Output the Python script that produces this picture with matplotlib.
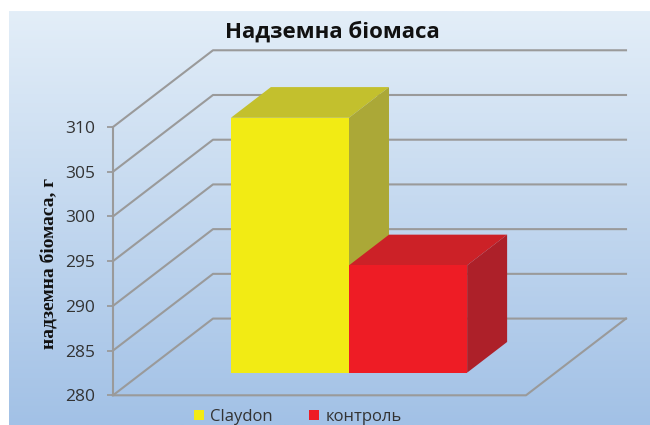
from matplotlib import pyplot as plt
from matplotlib.patches import Patch
import numpy as np

# Data
title = "Надземна біомаса"
y_label = "надземна біомаса, г"
series_names = ["Claydon", "контроль"]
series_values = [308.5, 292.0]
y_ticks = [280, 285, 290, 295, 300, 305, 310]

front_colors = ["#F2EB14", "#EE1C25"]
top_colors = ["#C3C02D", "#CC2127"]
side_colors = ["#ABA837", "#AD2029"]
grid_color = "#9A9A9A"

W, H = 650, 425
# How far the back wall is shifted from the front plane, in data units
depth_dx = 100 / 413
depth_dy = 76.7 / 8.94
bar_width = 0.286
bar_front = 0.295
bar_back = 0.695


def project(x, v, d):
    # oblique projection: d=0 is the front plane, d=1 the back wall
    return x + d * depth_dx, v + d * depth_dy


def face(ax, corners, color, z):
    pts = [project(*c) for c in corners]
    ax.fill([p[0] for p in pts], [p[1] for p in pts], color=color, lw=0, zorder=z, clip_on=False)


fig = plt.figure(figsize=(W / 100, H / 100), dpi=100, facecolor="white")

# Gradient panel behind the chart
bg = fig.add_axes([9 / W, 0, (W - 9) / W, (H - 11) / H], zorder=0)
top_rgb = np.array([227, 238, 248]) / 255
bottom_rgb = np.array([162, 193, 230]) / 255
steps = np.linspace(0, 1, 256)[:, None, None]
bg.imshow(top_rgb + (bottom_rgb - top_rgb) * steps, aspect="auto")
bg.axis("off")

# Axes cover the front plane of the 3D box
ax = fig.add_axes([113 / W, (H - 395.3) / H, 413 / W, 268.3 / H], zorder=1)
ax.patch.set_alpha(0)
ax.set_xlim(0, 1)
ax.set_ylim(280, 310)
for name in ["top", "right", "bottom"]:
    ax.spines[name].set_visible(False)
ax.spines["left"].set_color(grid_color)
ax.spines["left"].set_linewidth(1.5)
ax.set_xticks([])
ax.set_yticks(y_ticks)
ax.tick_params(axis="y", length=4.5, width=1.3, color=grid_color, pad=8.5)
for lab in ax.get_yticklabels():
    lab.set_fontfamily("Open Sans")
    lab.set_fontsize(12.5)
    lab.set_color("#333333")

# Gridlines run over the side wall and along the back wall
for v in y_ticks:
    pts = [project(0, v, 0), project(0, v, 1), project(1, v, 1)]
    ax.plot([p[0] for p in pts], [p[1] for p in pts], color=grid_color, lw=1.5, zorder=2, clip_on=False)
# Floor outline
floor = [project(0, 280, 0), project(1, 280, 0), project(1, 280, 1)]
ax.plot([p[0] for p in floor], [p[1] for p in floor], color=grid_color, lw=1.5, zorder=2, clip_on=False)

# Bars: two series side by side, meeting at the middle
base = 280
for i, value in enumerate(series_values):
    x0 = 0.5 + (i - 1) * bar_width
    x1 = x0 + bar_width
    z = 3 + i
    face(ax, [(x0, value, bar_front), (x1, value, bar_front), (x1, value, bar_back), (x0, value, bar_back)], top_colors[i], z)
    face(ax, [(x1, base, bar_front), (x1, value, bar_front), (x1, value, bar_back), (x1, base, bar_back)], side_colors[i], z)
    face(ax, [(x0, base, bar_front), (x1, base, bar_front), (x1, value, bar_front), (x0, value, bar_front)], front_colors[i], z)

fig.text(332 / W, (H - 32) / H, title, ha="center", va="center", fontfamily="Open Sans",
         fontweight="bold", fontsize=16, color="#111111", zorder=5)
fig.text(49 / W, (H - 263) / H, y_label, rotation=90, ha="center", va="center", fontfamily="Liberation Serif",
         fontweight="bold", fontsize=14, color="#111111", zorder=5)

handles = [Patch(facecolor=c, edgecolor="none") for c in front_colors]
leg = fig.legend(handles, series_names, loc="center", bbox_to_anchor=(297.5 / W, (H - 417) / H), ncols=2,
                 frameon=False, handlelength=0.6, handleheight=0.6, handletextpad=0.4, columnspacing=2.14,
                 prop={"family": "Open Sans", "size": 12}, borderpad=0, borderaxespad=0)
for t in leg.get_texts():
    t.set_color("#333333")

plt.savefig("out.png", dpi=100, facecolor="white")
